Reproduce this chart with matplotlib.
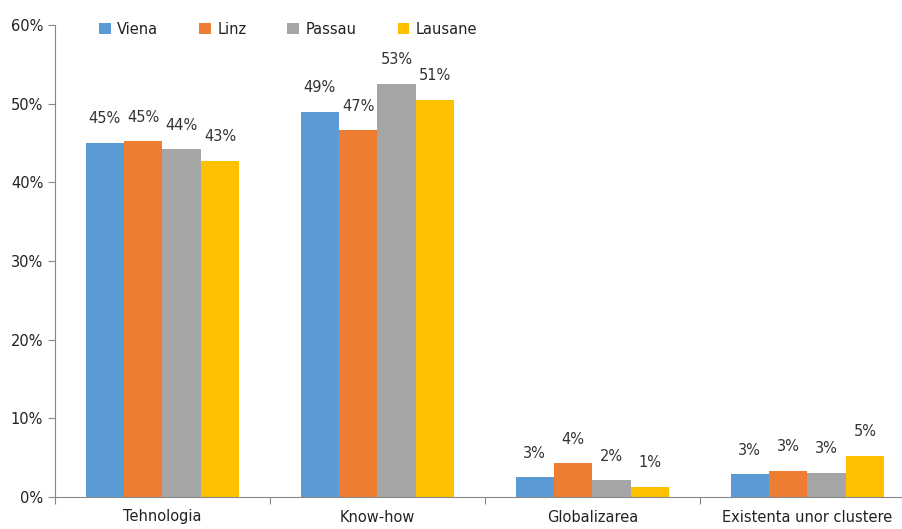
import matplotlib.pyplot as plt
import numpy as np

categories = ['Tehnologia', 'Know-how', 'Globalizarea', 'Existenta unor clustere']
series = ['Viena', 'Linz', 'Passau', 'Lausane']
viena = [45.0, 49.0, 2.5, 2.9]
linz = [45.2, 46.6, 4.3, 3.3]
passau = [44.2, 52.5, 2.1, 3.1]
lausane = [42.7, 50.5, 1.3, 5.2]
labels = [['45%', '49%', '3%', '3%'],
          ['45%', '47%', '4%', '3%'],
          ['44%', '53%', '2%', '3%'],
          ['43%', '51%', '1%', '5%']]
colors = ['#5B9BD5', '#ED7D31', '#A5A5A5', '#FFC000']


def main():
    plt.rcParams['font.family'] = ['DejaVu Sans']
    fig = plt.figure(figsize=(9.03, 5.29), dpi=100)
    ax = fig.add_axes([55 / 903, 32 / 529, 860 / 903, 472 / 529])

    values = [viena, linz, passau, lausane]
    x = np.arange(len(categories))
    w = 0.179
    for i, (name, vals) in enumerate(zip(series, values)):
        pos = x + (i - 1.5) * w
        ax.bar(pos, vals, width=w, color=colors[i], label=name)
        for p, v, t in zip(pos, vals, labels[i]):
            ax.annotate(t, (p, v), xytext=(0, 12), textcoords='offset points',
                        ha='center', va='bottom', fontsize=10.5, color='#333333')

    ax.set_xlim(-0.5, len(categories) - 0.5)
    ax.set_ylim(0, 60)
    ax.set_yticks(range(0, 61, 10))
    ax.set_yticklabels([f'{v}%' for v in range(0, 61, 10)])
    ax.set_xticks(np.arange(len(categories) + 1) - 0.5)
    ax.set_xticklabels([])
    ax.set_xticks(x, minor=True)
    ax.set_xticklabels(categories, minor=True)
    ax.tick_params(axis='x', which='minor', length=0, pad=9, labelsize=10.5, labelcolor='#222222')
    ax.tick_params(axis='x', which='major', length=5, color='#888888')
    ax.tick_params(axis='y', length=5, color='#888888', labelsize=10.5, labelcolor='#222222')

    for s in ['top', 'right']:
        ax.spines[s].set_visible(False)
    for s in ['left', 'bottom']:
        ax.spines[s].set_color('#888888')

    ax.legend(loc='upper left', bbox_to_anchor=(0.036, 1.035), ncol=4, frameon=False,
              fontsize=10.5, handlelength=0.8, handleheight=0.8, handletextpad=0.45,
              columnspacing=2.8, labelcolor='#222222')

    fig.savefig('out.png', dpi=100)


if __name__ == '__main__':
    main()
